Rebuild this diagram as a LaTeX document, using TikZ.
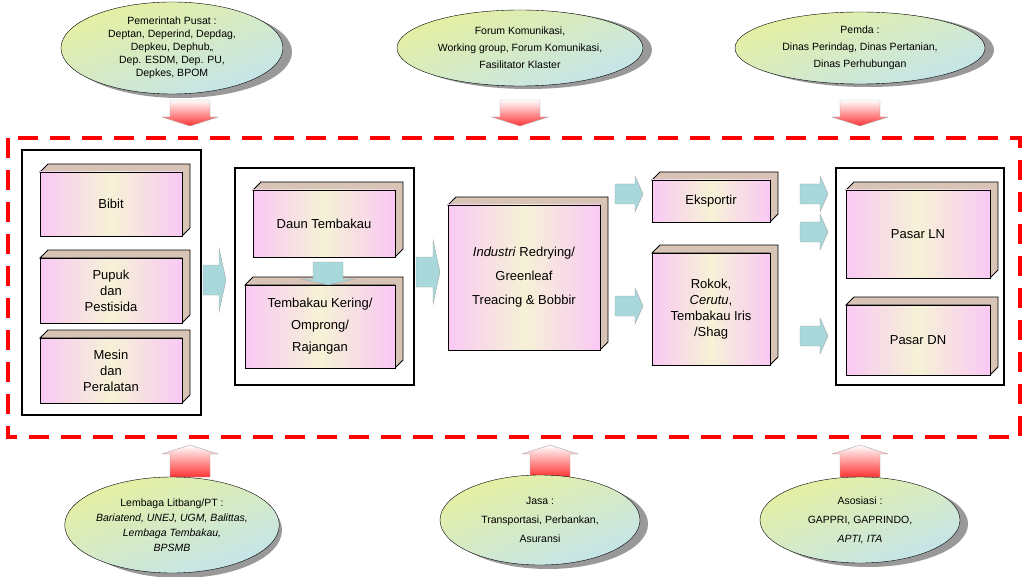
\documentclass[tikz,border=0pt]{standalone}
\usepackage{fontspec}
\setmainfont{Liberation Sans}
\usetikzlibrary{shapes.geometric}

\definecolor{side}{HTML}{D8C4B6}
\definecolor{pinkf}{HTML}{F9C8F4}
\definecolor{creamf}{HTML}{F6F2D6}
\definecolor{teal}{HTML}{A8D8DC}
\definecolor{ellg}{HTML}{E6F0A0}
\definecolor{ellb}{HTML}{C4E4EC}

\tikzset{
  face/.style={draw, thick, inner sep=1pt, align=center, left color=pinkf, right color=pinkf, middle color=creamf, font=\fontsize{13}{16}\selectfont},
  frame/.style={draw, line width=2.5pt},
  org/.style={ellipse, draw, align=center, font=\fontsize{10.5}{13}\selectfont, shading=axis, top color=ellg, bottom color=ellb, shading angle=20},
  orgshadow/.style={fill=black!40, draw=none},
  flow/.style={draw=gray!70, fill=teal},
  push/.style={draw=gray!70, top color=white, bottom color=red!80},
}

% cube: name, x1, y1, x2, y2, text
\newcommand\cube[6]{%
  \filldraw[fill=side, thick] (#2,#3) -- (#2+8,#3-8) -- (#4+8,#3-8) -- (#4+8,#5-8) -- (#4,#5) -- (#4,#3) -- cycle;
  \node[face, minimum width={#4pt-#2pt}, minimum height={#5pt-#3pt}] (#1) at ({(#2+#4)/2},{(#3+#5)/2}) {#6};
}
% horizontal block arrow: style, x tail, y mid, x tip, shaft half, head half, head length
\newcommand\blockH[7]{%
  \path[#1] (#2,#3-#5) -- (#4-#7,#3-#5) -- (#4-#7,#3-#6) -- (#4,#3) -- (#4-#7,#3+#6) -- (#4-#7,#3+#5) -- (#2,#3+#5) -- cycle;
}
% vertical block arrow: style, x mid, y tail, y tip, shaft half, head half, signed head length
\newcommand\blockV[7]{%
  \path[#1] (#2-#5,#3) -- (#2-#5,#4-#7) -- (#2-#6,#4-#7) -- (#2,#4) -- (#2+#6,#4-#7) -- (#2+#5,#4-#7) -- (#2+#5,#3) -- cycle;
}

\begin{document}
\begin{tikzpicture}[x=1pt, y=-1pt]
  \useasboundingbox (0,0) rectangle (1024,577);

  % top stakeholders
  \fill[orgshadow] (180,52) ellipse (112pt and 46pt);
  \node[org, minimum width=222pt, minimum height=92pt, inner sep=0pt] (pusat) at (172,48)
    {Pemerintah Pusat :\\Deptan, Deperind, Depdag,\\Depkeu, Dephub,,\\Dep. ESDM, Dep. PU,\\Depkes, BPOM};
  \fill[orgshadow] (528,50) ellipse (124pt and 39pt);
  \node[org, minimum width=246pt, minimum height=76pt, inner sep=0pt] (forum) at (520,48)
    {Forum Komunikasi,\\[4pt]Working group, Forum Komunikasi,\\[4pt]Fasilitator Klaster};
  \fill[orgshadow] (868,50) ellipse (126pt and 37pt);
  \node[org, minimum width=250pt, minimum height=72pt, inner sep=0pt] (pemda) at (860,48)
    {Pemda :\\[4pt]Dinas Perindag, Dinas Pertanian,\\[4pt]Dinas Perhubungan};

  \blockV{push}{190}{100}{126}{20}{28}{9}
  \blockV{push}{520}{100}{126}{20}{28}{9}
  \blockV{push}{860}{100}{126}{20}{28}{9}

  % chain
  \draw[red, line width=3.5pt, dash pattern=on 20pt off 12pt] (8,138) rectangle (1020,437);

  \draw[frame] (22,150) rectangle (201,415);
  \cube{bibit}{40}{172}{182}{236}{Bibit}
  \cube{pupuk}{40}{258}{182}{323}{Pupuk\\dan\\Pestisida}
  \cube{mesin}{40}{338}{182}{403}{Mesin\\dan\\Peralatan}

  \draw[frame] (235,168) rectangle (414,385);
  \cube{daun}{253}{190}{395}{257}{Daun Tembakau}
  \cube{kering}{245}{285}{395}{368}{Tembakau Kering/\\[6pt]Omprong/\\[6pt]Rajangan}
  \blockV{flow}{328}{262}{285}{15}{27}{6}

  \cube{industri}{448}{205}{600}{350}{\textit{Industri} Redrying/\\[8pt]Greenleaf\\[8pt]Treacing \& Bobbir}
  \cube{ekspor}{652}{180}{770}{222}{Eksportir}
  \cube{rokok}{652}{253}{770}{365}{Rokok,\\\textit{Cerutu},\\Tembakau Iris\\/Shag}

  \draw[frame] (836,168) rectangle (1004,385);
  \cube{ln}{846}{190}{990}{278}{Pasar LN}
  \cube{dn}{846}{305}{990}{375}{Pasar DN}

  \blockH{flow}{203}{280}{226}{15}{32}{7}
  \blockH{flow}{416}{272}{440}{15}{32}{7}
  \blockH{flow}{615}{194}{643}{10}{18}{8}
  \blockH{flow}{615}{306}{643}{10}{18}{8}
  \blockH{flow}{800}{194}{828}{10}{18}{8}
  \blockH{flow}{800}{232}{828}{10}{18}{8}
  \blockH{flow}{800}{336}{828}{10}{18}{8}

  % bottom stakeholders
  \blockV{push}{190}{477}{445}{20}{28}{-9}
  \blockV{push}{550}{477}{445}{20}{28}{-9}
  \blockV{push}{860}{477}{445}{20}{28}{-9}

  \fill[orgshadow] (180,530) ellipse (102pt and 48pt);
  \node[org, minimum width=204pt, minimum height=96pt, inner sep=0pt] (litbang) at (172,525)
    {Lembaga Litbang/PT :\\[2pt]\textit{Bariatend, UNEJ, UGM, Balittas,}\\[2pt]\textit{Lembaga Tembakau,}\\[2pt]\textit{BPSMB}};
  \fill[orgshadow] (548,524) ellipse (100pt and 45pt);
  \node[org, minimum width=200pt, minimum height=90pt, inner sep=0pt] (jasa) at (540,520)
    {Jasa :\\[6pt]Transportasi, Perbankan,\\[6pt]Asuransi};
  \fill[orgshadow] (868,524) ellipse (100pt and 43pt);
  \node[org, minimum width=200pt, minimum height=86pt, inner sep=0pt] (asosiasi) at (860,520)
    {Asosiasi :\\[6pt]GAPPRI, GAPRINDO,\\[6pt]\textit{APTI, ITA}};
\end{tikzpicture}
\end{document}
